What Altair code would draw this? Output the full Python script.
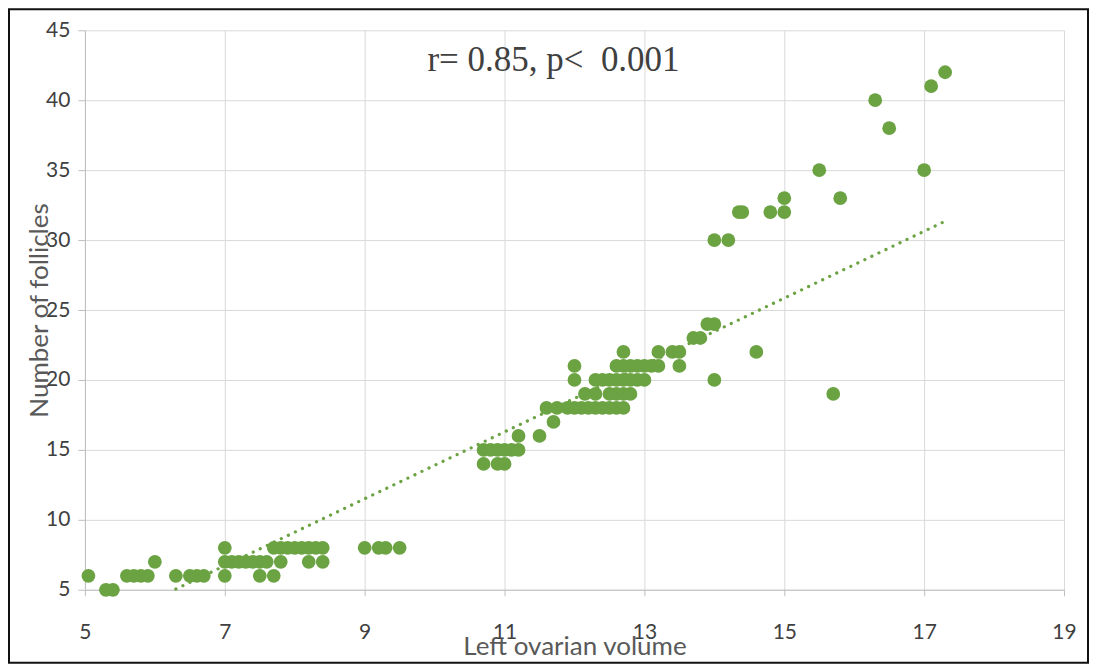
import altair as alt
import pandas as pd

# Left ovarian volume (x) and number of follicles (y)
vol = [5.05, 5.3, 5.4, 5.6, 5.7, 5.8, 5.9, 6.0, 6.3, 6.5, 6.6, 6.7,
       7.0, 7.0, 7.0, 7.1, 7.2, 7.3, 7.4, 7.5, 7.6, 7.5, 7.7, 7.8,
       7.7, 7.8, 7.9, 8.0, 8.1, 8.2, 8.3, 8.4, 8.2, 8.4,
       9.0, 9.2, 9.3, 9.5,
       10.7, 10.8, 10.9, 11.0, 11.1, 11.2, 10.7, 10.9, 11.0,
       11.2, 11.5, 11.7, 11.6, 11.75,
       11.9, 12.0, 12.1, 12.2, 12.3, 12.4, 12.5, 12.6, 12.7,
       12.15, 12.3, 12.5, 12.6, 12.7, 12.8,
       12.0, 12.3, 12.4, 12.5, 12.6, 12.7, 12.8, 12.9, 13.0,
       12.0, 12.6, 12.7, 12.8, 12.9, 13.0, 13.1, 13.2, 13.5,
       12.7, 13.2, 13.4, 13.5, 13.7, 13.8, 13.9, 14.0,
       14.0, 14.6, 14.0, 14.2, 14.35, 14.4, 14.8, 15.0, 15.0, 15.8,
       15.5, 17.0, 16.3, 16.5, 17.1, 17.3, 15.7]
fol = [6, 5, 5, 6, 6, 6, 6, 7, 6, 6, 6, 6,
       8, 7, 6, 7, 7, 7, 7, 7, 7, 6, 6, 7,
       8, 8, 8, 8, 8, 8, 8, 8, 7, 7,
       8, 8, 8, 8,
       15, 15, 15, 15, 15, 15, 14, 14, 14,
       16, 16, 17, 18, 18,
       18, 18, 18, 18, 18, 18, 18, 18, 18,
       19, 19, 19, 19, 19, 19,
       20, 20, 20, 20, 20, 20, 20, 20, 20,
       21, 21, 21, 21, 21, 21, 21, 21, 21,
       22, 22, 22, 22, 23, 23, 24, 24,
       20, 22, 30, 30, 32, 32, 32, 32, 33, 33,
       35, 35, 40, 38, 41, 42, 19]

# Linear trendline end points
trend_x = [6.3, 17.3]
trend_y = [5.05, 31.35]

x_ticks = [5, 7, 9, 11, 13, 15, 17, 19]
y_ticks = [5, 10, 15, 20, 25, 30, 35, 40, 45]

ann_text = ["r= 0.85, p<\u00a0 0.001"]
ann_x = [11.7]
ann_y = [42.9]

pts = pd.DataFrame({"vol": vol, "fol": fol})
trend = pd.DataFrame({"vol": trend_x, "fol": trend_y})
ann = pd.DataFrame({"vol": ann_x, "fol": ann_y, "t": ann_text})

xs = alt.Scale(domain=[5, 19], nice=False, zero=False)
ys = alt.Scale(domain=[5, 45], nice=False, zero=False)

xaxis = alt.Axis(values=x_ticks, format="d", title="Left ovarian volume", grid=True,
                 gridColor="#d9d9d9", domainColor="#bfbfbf", tickColor="#bfbfbf",
                 tickSize=6, labelPadding=26, labelFont="Lato", labelFontSize=21,
                 labelColor="#404040", labelFlush=False, labelOverlap=False,
                 titleFont="Lato", titleFontSize=26,
                 titleColor="#595959", titleFontWeight="normal",
                 titleY=57, titleBaseline="middle")
yaxis = alt.Axis(values=y_ticks, format="d", title="Number of follicles", grid=True,
                 gridColor="#d9d9d9", domainColor="#bfbfbf", tickColor="#bfbfbf",
                 tickSize=7, labelPadding=8, labelFont="Lato", labelFontSize=21,
                 labelColor="#404040", labelFlush=False, labelOverlap=False,
                 titleFont="Lato", titleFontSize=26,
                 titleColor="#595959", titleFontWeight="normal",
                 titleX=-45, titleY=280, titleBaseline="middle", titleAngle=270)

points = alt.Chart(pts).mark_circle(size=190, color="#6BA343", opacity=1).encode(
    x=alt.X("vol:Q", scale=xs, axis=xaxis),
    y=alt.Y("fol:Q", scale=ys, axis=yaxis),
)

line = alt.Chart(trend).mark_line(color="#6BA343", strokeWidth=3.2,
                                  strokeDash=[0.1, 7.7], strokeCap="round").encode(
    x=alt.X("vol:Q", scale=xs),
    y=alt.Y("fol:Q", scale=ys),
)

text = alt.Chart(ann).mark_text(font="Liberation Serif", fontSize=35,
                                color="#404040", align="center",
                                baseline="middle").encode(
    x=alt.X("vol:Q", scale=xs),
    y=alt.Y("fol:Q", scale=ys),
    text="t:N",
)

frame = alt.Chart(ann).mark_rect(fillOpacity=0, stroke="#111111", strokeWidth=2).encode(
    x=alt.value(-76), x2=alt.value(1004), y=alt.value(-21), y2=alt.value(633)
)

chart = alt.layer(points, line, text, frame).properties(
    width=980, height=560,
    autosize=alt.AutoSizeParams(type="none"),
    padding={"left": 77, "top": 22, "right": 25, "bottom": 74},
    background="white",
).configure_view(stroke=None)

chart.save("out.html", embed_options={"renderer": "svg", "actions": False})
